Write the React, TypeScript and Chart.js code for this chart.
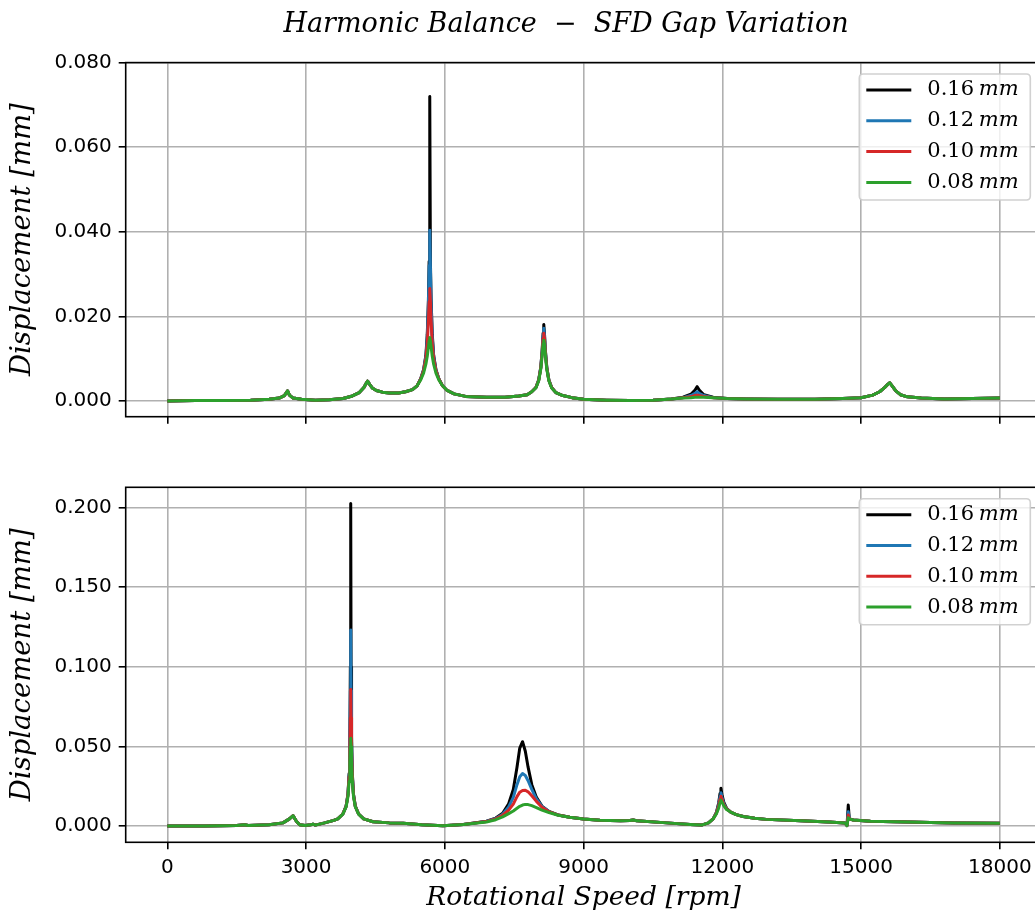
import React, { useEffect, useRef } from 'react';
import { Chart, registerables } from 'chart.js';

Chart.register(...registerables);

// ---------- data ----------
const seriesLabels = ['0.16', '0.12', '0.10', '0.08'];
const seriesColors = ['#000000', '#1f77b4', '#d62728', '#2ca02c'];
const xTicks = [0, 3000, 6000, 9000, 12000, 15000, 18000];
const topYTicks = [0, 0.02, 0.04, 0.06, 0.08];
const bottomYTicks = [0, 0.05, 0.1, 0.15, 0.2];

const topRpm = [
  0, 600, 1200, 1800, 2200, 2420, 2530, 2600, 2640, 2720,
  2900, 3200, 3500, 3800, 4000, 4150, 4250, 4300, 4330, 4370,
  4430, 4520, 4650, 4800, 5000, 5150, 5300, 5400, 5478, 5540,
  5590, 5620, 5645, 5660, 5674, 5688, 5703, 5728, 5758, 5808,
  5870, 5950, 6050, 6200, 6450, 6900, 7300, 7600, 7780, 7879,
  7969, 8029, 8074, 8104, 8124, 8139, 8154, 8174, 8204, 8249,
  8309, 8400, 8550, 8750, 9000, 9500, 10000, 10500, 10900, 11150,
  11320, 11410, 11456, 11500, 11600, 11800, 12100, 12500, 13200, 14000,
  14600, 15000, 15250, 15400, 15500, 15580, 15620, 15670, 15750, 15850,
  16000, 16300, 16800, 17400, 18000,
];
const topGap016 = [
  0, 0.0001, 0.0001, 0.0002, 0.0004, 0.0007, 0.0013, 0.0024, 0.0014, 0.0007,
  0.0004, 0.0002, 0.0003, 0.0006, 0.0012, 0.0020, 0.0032, 0.0042, 0.0047, 0.0040,
  0.0031, 0.0025, 0.0021, 0.0019, 0.0019, 0.0022, 0.0027, 0.0036, 0.0053, 0.0074,
  0.0108, 0.0158, 0.0240, 0.0330, 0.0720, 0.0330, 0.0240, 0.0158, 0.0108, 0.0074,
  0.0053, 0.0036, 0.0025, 0.0017, 0.0011, 0.0009, 0.0009, 0.0012, 0.0015, 0.0022,
  0.0032, 0.0050, 0.0080, 0.0120, 0.0160, 0.0181, 0.0160, 0.0120, 0.0080, 0.0050,
  0.0032, 0.0020, 0.0013, 0.0008, 0.0004, 0.0002, 0.0001, 0.0002, 0.0005, 0.0009,
  0.0016, 0.0026, 0.0034, 0.0026, 0.0015, 0.0009, 0.0006, 0.0005, 0.0004, 0.0004,
  0.0006, 0.0008, 0.0014, 0.0022, 0.0031, 0.0040, 0.0043, 0.0036, 0.0024, 0.0015,
  0.0010, 0.0007, 0.0005, 0.0006, 0.0007,
];
const topGap012 = [
  0, 0.0001, 0.0001, 0.0002, 0.0004, 0.0007, 0.0013, 0.0024, 0.0014, 0.0007,
  0.0004, 0.0002, 0.0003, 0.0006, 0.0012, 0.0020, 0.0032, 0.0042, 0.0047, 0.0040,
  0.0031, 0.0025, 0.0021, 0.0019, 0.0019, 0.0022, 0.0027, 0.0036, 0.0053, 0.0073,
  0.0105, 0.0150, 0.0230, 0.0320, 0.0404, 0.0320, 0.0230, 0.0150, 0.0105, 0.0073,
  0.0053, 0.0036, 0.0025, 0.0017, 0.0011, 0.0009, 0.0009, 0.0012, 0.0015, 0.0022,
  0.0032, 0.0050, 0.0079, 0.0118, 0.0155, 0.0172, 0.0155, 0.0118, 0.0079, 0.0050,
  0.0032, 0.0020, 0.0013, 0.0008, 0.0004, 0.0002, 0.0001, 0.0002, 0.0005, 0.0008,
  0.0013, 0.0018, 0.0022, 0.0018, 0.0013, 0.0008, 0.0006, 0.0005, 0.0004, 0.0004,
  0.0006, 0.0008, 0.0014, 0.0022, 0.0031, 0.0040, 0.0043, 0.0036, 0.0024, 0.0015,
  0.0010, 0.0007, 0.0005, 0.0006, 0.0007,
];
const topGap010 = [
  0, 0.0001, 0.0001, 0.0002, 0.0004, 0.0007, 0.0013, 0.0024, 0.0014, 0.0007,
  0.0004, 0.0002, 0.0003, 0.0006, 0.0012, 0.0020, 0.0032, 0.0042, 0.0047, 0.0040,
  0.0031, 0.0025, 0.0021, 0.0019, 0.0019, 0.0022, 0.0027, 0.0036, 0.0052, 0.0071,
  0.0100, 0.0135, 0.0190, 0.0235, 0.0266, 0.0235, 0.0190, 0.0135, 0.0100, 0.0071,
  0.0052, 0.0036, 0.0025, 0.0017, 0.0011, 0.0009, 0.0009, 0.0012, 0.0015, 0.0022,
  0.0032, 0.0049, 0.0078, 0.0114, 0.0148, 0.0160, 0.0148, 0.0114, 0.0078, 0.0049,
  0.0032, 0.0020, 0.0013, 0.0008, 0.0004, 0.0002, 0.0001, 0.0002, 0.0005, 0.0008,
  0.0010, 0.0013, 0.0014, 0.0013, 0.0011, 0.0008, 0.0006, 0.0005, 0.0004, 0.0004,
  0.0006, 0.0008, 0.0014, 0.0022, 0.0031, 0.0040, 0.0043, 0.0036, 0.0024, 0.0015,
  0.0010, 0.0007, 0.0005, 0.0006, 0.0007,
];
const topGap008 = [
  0, 0.0001, 0.0001, 0.0002, 0.0004, 0.0007, 0.0013, 0.0024, 0.0014, 0.0007,
  0.0004, 0.0002, 0.0003, 0.0006, 0.0012, 0.0020, 0.0032, 0.0042, 0.0047, 0.0040,
  0.0031, 0.0025, 0.0021, 0.0019, 0.0019, 0.0022, 0.0027, 0.0036, 0.0050, 0.0066,
  0.0087, 0.0106, 0.0128, 0.0142, 0.0150, 0.0142, 0.0128, 0.0106, 0.0087, 0.0066,
  0.0050, 0.0036, 0.0025, 0.0017, 0.0011, 0.0009, 0.0009, 0.0012, 0.0015, 0.0022,
  0.0031, 0.0048, 0.0075, 0.0108, 0.0135, 0.0144, 0.0135, 0.0108, 0.0075, 0.0048,
  0.0031, 0.0020, 0.0013, 0.0008, 0.0004, 0.0002, 0.0001, 0.0002, 0.0005, 0.0007,
  0.0008, 0.0009, 0.0009, 0.0009, 0.0009, 0.0008, 0.0006, 0.0005, 0.0004, 0.0004,
  0.0006, 0.0008, 0.0014, 0.0022, 0.0031, 0.0040, 0.0043, 0.0036, 0.0024, 0.0015,
  0.0010, 0.0007, 0.0005, 0.0006, 0.0007,
];

const bottomRpm = [
  0, 800, 1500, 1672, 1750, 2200, 2500, 2640, 2720, 2790,
  2860, 2980, 3100, 3150, 3200, 3400, 3600, 3685, 3795, 3865,
  3905, 3930, 3947, 3957, 3965, 3973, 3983, 4000, 4025, 4065,
  4135, 4245, 4450, 4800, 5100, 5500, 5960, 6400, 6900, 7100,
  7250, 7380, 7480, 7560, 7620, 7680, 7740, 7800, 7880, 7980,
  8100, 8250, 8450, 8700, 9000, 9350, 9800, 10000, 10070, 10150,
  10800, 11300, 11550, 11700, 11800, 11870, 11920, 11950, 11969, 11990,
  12030, 12090, 12180, 12300, 12450, 12700, 12950, 13700, 14300, 14650,
  14695, 14722, 14745, 14830, 15200, 16000, 17000, 18000,
];
const bottomGap016 = [
  0, 0.0001, 0.0003, 0.0008, 0.0004, 0.0008, 0.0020, 0.0045, 0.0065, 0.0030,
  0.0008, 0.0003, 0.0008, 0.0012, 0.0006, 0.0020, 0.0036, 0.0045, 0.0076, 0.0125,
  0.0200, 0.0330, 0.0560, 0.1000, 0.2027, 0.1000, 0.0560, 0.0330, 0.0200, 0.0125,
  0.0076, 0.0045, 0.0027, 0.0020, 0.0017, 0.0008, 0.0002, 0.0010, 0.0030, 0.0050,
  0.0080, 0.0140, 0.0230, 0.0370, 0.0490, 0.0530, 0.0470, 0.0370, 0.0260, 0.0180,
  0.0125, 0.0092, 0.0070, 0.0055, 0.0045, 0.0036, 0.0034, 0.0035, 0.0038, 0.0033,
  0.0020, 0.0010, 0.0006, 0.0020, 0.0045, 0.0085, 0.0145, 0.0205, 0.0237, 0.0200,
  0.0150, 0.0112, 0.0088, 0.0072, 0.0060, 0.0049, 0.0042, 0.0033, 0.0025, 0.0020,
  0.0003, 0.0132, 0.0045, 0.0038, 0.0030, 0.0025, 0.0020, 0.0017,
];
const bottomGap012 = [
  0, 0.0001, 0.0003, 0.0008, 0.0004, 0.0008, 0.0020, 0.0045, 0.0065, 0.0030,
  0.0008, 0.0003, 0.0008, 0.0012, 0.0006, 0.0020, 0.0036, 0.0045, 0.0076, 0.0124,
  0.0198, 0.0320, 0.0530, 0.0850, 0.1231, 0.0850, 0.0530, 0.0320, 0.0198, 0.0124,
  0.0076, 0.0045, 0.0027, 0.0020, 0.0017, 0.0008, 0.0002, 0.0010, 0.0029, 0.0048,
  0.0074, 0.0120, 0.0180, 0.0260, 0.0310, 0.0330, 0.0318, 0.0285, 0.0230, 0.0170,
  0.0123, 0.0091, 0.0069, 0.0055, 0.0045, 0.0036, 0.0034, 0.0035, 0.0038, 0.0033,
  0.0020, 0.0010, 0.0006, 0.0020, 0.0045, 0.0082, 0.0135, 0.0185, 0.0210, 0.0182,
  0.0142, 0.0110, 0.0088, 0.0072, 0.0060, 0.0049, 0.0042, 0.0033, 0.0025, 0.0020,
  0.0003, 0.0090, 0.0045, 0.0038, 0.0030, 0.0025, 0.0020, 0.0017,
];
const bottomGap010 = [
  0, 0.0001, 0.0003, 0.0008, 0.0004, 0.0008, 0.0020, 0.0045, 0.0065, 0.0030,
  0.0008, 0.0003, 0.0008, 0.0012, 0.0006, 0.0020, 0.0036, 0.0045, 0.0076, 0.0123,
  0.0195, 0.0310, 0.0480, 0.0680, 0.0858, 0.0680, 0.0480, 0.0310, 0.0195, 0.0123,
  0.0076, 0.0045, 0.0027, 0.0020, 0.0017, 0.0008, 0.0002, 0.0010, 0.0028, 0.0045,
  0.0068, 0.0100, 0.0138, 0.0185, 0.0213, 0.0224, 0.0225, 0.0215, 0.0190, 0.0155,
  0.0118, 0.0090, 0.0069, 0.0055, 0.0045, 0.0036, 0.0034, 0.0035, 0.0038, 0.0033,
  0.0020, 0.0010, 0.0006, 0.0020, 0.0045, 0.0080, 0.0125, 0.0168, 0.0188, 0.0168,
  0.0135, 0.0108, 0.0088, 0.0072, 0.0060, 0.0049, 0.0042, 0.0033, 0.0025, 0.0020,
  0.0003, 0.0069, 0.0045, 0.0038, 0.0030, 0.0025, 0.0020, 0.0017,
];
const bottomGap008 = [
  0, 0.0001, 0.0003, 0.0008, 0.0004, 0.0008, 0.0020, 0.0045, 0.0065, 0.0030,
  0.0008, 0.0003, 0.0008, 0.0012, 0.0006, 0.0020, 0.0036, 0.0045, 0.0075, 0.0120,
  0.0185, 0.0280, 0.0400, 0.0500, 0.0551, 0.0500, 0.0400, 0.0280, 0.0185, 0.0120,
  0.0075, 0.0045, 0.0027, 0.0020, 0.0017, 0.0008, 0.0002, 0.0010, 0.0026, 0.0040,
  0.0058, 0.0078, 0.0095, 0.0112, 0.0124, 0.0132, 0.0136, 0.0135, 0.0128, 0.0116,
  0.0100, 0.0085, 0.0068, 0.0055, 0.0045, 0.0036, 0.0034, 0.0035, 0.0038, 0.0033,
  0.0020, 0.0010, 0.0006, 0.0020, 0.0045, 0.0076, 0.0112, 0.0148, 0.0163, 0.0152,
  0.0128, 0.0104, 0.0088, 0.0072, 0.0060, 0.0049, 0.0042, 0.0033, 0.0025, 0.0020,
  0.0003, 0.0052, 0.0045, 0.0038, 0.0030, 0.0025, 0.0020, 0.0017,
];

// ---------- layout constants ----------
const CANVAS_W = 1060;
const TOP_H = 440;
const BOT_H = 476;
const AXIS_LEFT = 125.7;
const AXIS_RIGHT = 1041.5;
const X_MIN = -900;
const X_MAX = 18900;

const SERIF = '"DejaVu Serif", serif';
const SANS = '"DejaVu Sans", sans-serif';

const spinesPlugin = {
  id: 'spines',
  afterDatasetsDraw(chart: any) {
    const { ctx, chartArea } = chart;
    ctx.save();
    ctx.strokeStyle = '#000';
    ctx.lineWidth = 1.6;
    ctx.strokeRect(chartArea.left, chartArea.top, chartArea.right - chartArea.left, chartArea.bottom - chartArea.top);
    ctx.restore();
  },
};

const legendPlugin = {
  id: 'mplLegend',
  afterDraw(chart: any) {
    const { ctx, chartArea } = chart;
    const w = 171;
    const h = 126;
    const x0 = chartArea.right - 182.2;
    const y0 = chartArea.top + 11.4;
    const r = 4;
    ctx.save();
    ctx.beginPath();
    ctx.moveTo(x0 + r, y0);
    ctx.lineTo(x0 + w - r, y0);
    ctx.quadraticCurveTo(x0 + w, y0, x0 + w, y0 + r);
    ctx.lineTo(x0 + w, y0 + h - r);
    ctx.quadraticCurveTo(x0 + w, y0 + h, x0 + w - r, y0 + h);
    ctx.lineTo(x0 + r, y0 + h);
    ctx.quadraticCurveTo(x0, y0 + h, x0, y0 + h - r);
    ctx.lineTo(x0, y0 + r);
    ctx.quadraticCurveTo(x0, y0, x0 + r, y0);
    ctx.closePath();
    ctx.fillStyle = 'rgba(255,255,255,0.8)';
    ctx.fill();
    ctx.strokeStyle = 'rgba(204,204,204,0.9)';
    ctx.lineWidth = 1.6;
    ctx.stroke();
    const ds = chart.data.datasets;
    ds.forEach((d: any, i: number) => {
      const y = y0 + 16 + i * 30.8;
      ctx.strokeStyle = d.borderColor;
      ctx.lineWidth = 3;
      ctx.beginPath();
      ctx.moveTo(x0 + 7, y);
      ctx.lineTo(x0 + 52, y);
      ctx.stroke();
      ctx.fillStyle = '#000';
      ctx.textBaseline = 'middle';
      ctx.textAlign = 'left';
      ctx.font = `21px ${SERIF}`;
      const num = d.label;
      ctx.fillText(num, x0 + 68, y);
      const wNum = ctx.measureText(num + ' ').width;
      ctx.font = `italic 21px ${SERIF}`;
      ctx.fillText('mm', x0 + 68 + wNum - 2, y);
    });
    ctx.restore();
  },
};

const titlePlugin = {
  id: 'figTitle',
  afterDraw(chart: any) {
    const { ctx } = chart;
    ctx.save();
    ctx.fillStyle = '#000';
    ctx.font = `italic 27px ${SERIF}`;
    ctx.textAlign = 'center';
    ctx.textBaseline = 'alphabetic';
    ctx.fillText('Harmonic Balance  \u2212  SFD Gap Variation', 566, 32);
    ctx.restore();
  },
};

function makeConfig(o: {
  rpm: number[];
  series: number[][];
  yMin: number;
  yMax: number;
  yTicks: number[];
  padTop: number;
  xAxisHeight: number;
  showXLabels: boolean;
  plugins: any[];
}) {
  const datasets = o.series.map((vals, i) => ({
    label: seriesLabels[i],
    data: o.rpm.map((x, j) => ({ x, y: vals[j] })),
    borderColor: seriesColors[i],
    backgroundColor: seriesColors[i],
    borderWidth: 3,
    pointRadius: 0,
    tension: 0,
    fill: false,
    borderJoinStyle: 'round',
    order: 3 - i,
  }));
  return {
    type: 'line',
    data: { datasets },
    plugins: o.plugins,
    options: {
      animation: false,
      responsive: false,
      maintainAspectRatio: false,
      events: [],
      layout: { padding: { left: 0, top: o.padTop, right: CANVAS_W - AXIS_RIGHT, bottom: 0 } },
      plugins: { legend: { display: false }, tooltip: { enabled: false }, title: { display: false } },
      scales: {
        x: {
          type: 'linear',
          min: X_MIN,
          max: X_MAX,
          afterBuildTicks: (scale: any) => {
            scale.ticks = xTicks.map((v) => ({ value: v }));
          },
          afterFit: (scale: any) => {
            scale.height = o.xAxisHeight;
          },
          grid: {
            color: '#b0b0b0',
            lineWidth: 1.6,
            drawTicks: true,
            tickLength: 7,
            tickColor: '#000',
            tickWidth: 1.6,
          },
          border: { display: false },
          ticks: {
            autoSkip: false,
            maxRotation: 0,
            minRotation: 0,
            padding: 6,
            color: '#000',
            font: { family: SANS, size: 20 },
            callback: (v: any) => (o.showXLabels ? String(v) : ''),
          },
          title: o.showXLabels
            ? {
                display: true,
                text: 'Rotational Speed [rpm]',
                color: '#000',
                font: { family: SERIF, size: 26.5, style: 'italic' },
                padding: { top: 0, bottom: 2 },
              }
            : { display: false },
        },
        y: {
          type: 'linear',
          min: o.yMin,
          max: o.yMax,
          afterBuildTicks: (scale: any) => {
            scale.ticks = o.yTicks.map((v) => ({ value: v }));
          },
          afterFit: (scale: any) => {
            scale.width = AXIS_LEFT;
          },
          grid: {
            color: '#b0b0b0',
            lineWidth: 1.6,
            drawTicks: true,
            tickLength: 7,
            tickColor: '#000',
            tickWidth: 1.6,
          },
          border: { display: false },
          ticks: {
            padding: 7,
            color: '#000',
            font: { family: SANS, size: 20 },
            callback: (v: any) => Number(v).toFixed(3),
          },
          title: {
            display: true,
            text: 'Displacement [mm]',
            color: '#000',
            font: { family: SERIF, size: 27.5, style: 'italic' },
            padding: { top: 6, bottom: 0 },
          },
        },
      },
    },
  } as any;
}

export default function App() {
  const topRef = useRef<HTMLCanvasElement>(null);
  const botRef = useRef<HTMLCanvasElement>(null);

  useEffect(() => {
    const top = new Chart(
      topRef.current as HTMLCanvasElement,
      makeConfig({
        rpm: topRpm,
        series: [topGap016, topGap012, topGap010, topGap008],
        yMin: -0.0037,
        yMax: 0.08,
        yTicks: topYTicks,
        padTop: 62.6,
        xAxisHeight: TOP_H - 416.7,
        showXLabels: false,
        plugins: [spinesPlugin, legendPlugin, titlePlugin],
      })
    );
    const bottom = new Chart(
      botRef.current as HTMLCanvasElement,
      makeConfig({
        rpm: bottomRpm,
        series: [bottomGap016, bottomGap012, bottomGap010, bottomGap008],
        yMin: -0.0102,
        yMax: 0.2128,
        yTicks: bottomYTicks,
        padTop: 487.3 - TOP_H,
        xAxisHeight: BOT_H - (842.3 - TOP_H),
        showXLabels: true,
        plugins: [spinesPlugin, legendPlugin],
      })
    );
    return () => {
      top.destroy();
      bottom.destroy();
    };
  }, []);

  return (
    <div
      style={{
        position: 'absolute',
        left: 0,
        top: 0,
        width: 1035,
        height: 916,
        overflow: 'hidden',
        background: '#fff',
      }}
    >
      <canvas
        ref={topRef}
        width={CANVAS_W}
        height={TOP_H}
        style={{ position: 'absolute', left: 0, top: 0, width: CANVAS_W, height: TOP_H }}
      />
      <canvas
        ref={botRef}
        width={CANVAS_W}
        height={BOT_H}
        style={{ position: 'absolute', left: 0, top: TOP_H, width: CANVAS_W, height: BOT_H }}
      />
    </div>
  );
}
